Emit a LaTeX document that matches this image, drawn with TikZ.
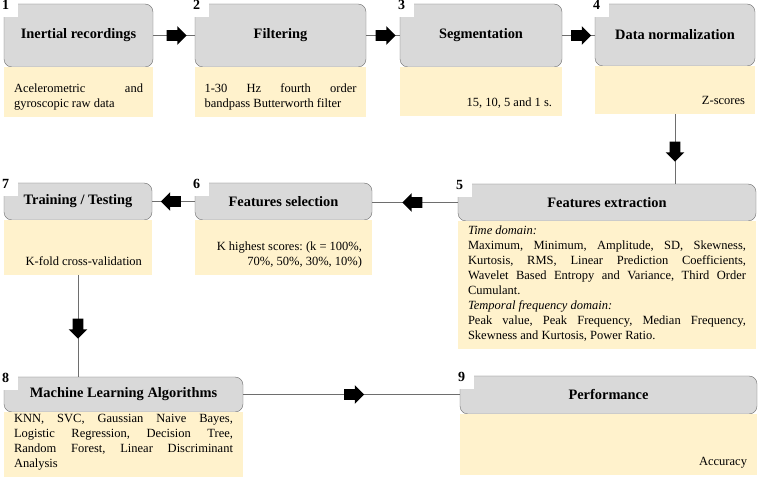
\documentclass[tikz,border=0pt]{standalone}
\usepackage{fontspec}
\setmainfont{Liberation Serif}
\usetikzlibrary{positioning,shapes.arrows}
\definecolor{boxgray}{HTML}{D9D9D9}
\definecolor{boxline}{HTML}{6E6E6E}
\definecolor{notes}{HTML}{FFF2CC}
\newcommand\wordspacing{\frenchspacing\hyphenpenalty=10000\exhyphenpenalty=10000\spaceskip=\fontdimen2\font plus \fontdimen3\font\relax}
\newcommand\fixedspacing{\frenchspacing\spaceskip=\fontdimen2\font\relax}
\tikzset{
  stage/.style={draw=boxline,fill=boxgray,rounded corners=8pt,anchor=north west,outer sep=0pt,inner sep=0pt,font=\fontsize{14.4}{17}\selectfont\bfseries},
  info/.style={fill=notes,outer sep=0pt,inner sep=0pt},
  desc/.style={inner sep=0pt,font=\fontsize{12.5}{15}\selectfont,align=justify,execute at begin node=\wordspacing,execute at end node=\strut},
  rdesc/.style={inner sep=0pt,font=\fontsize{12.5}{15}\selectfont,align=right,execute at begin node=\fixedspacing,execute at end node=\strut},
  num/.style={fill=white,minimum size=24pt,inner sep=0pt,font=\fontsize{14}{16}\selectfont\bfseries},
  link/.style={draw=boxline,line width=.8pt},
  blk/.style={single arrow,fill=black,inner xsep=0pt,inner ysep=5pt,minimum height=20pt,single arrow head extend=4pt},
}
\begin{document}
\begin{tikzpicture}[x=1pt,y=1pt]
	\path[use as bounding box,fill=white] (0,0) rectangle (758,-478);

	% first row
	\node[stage,minimum width=149pt,minimum height=63pt] at (4,-4) (b1) {Inertial recordings};
	\node[info,minimum width=149pt,minimum height=50pt,below=0pt of b1] (d1) {};
	\node[desc,text width=129pt,above=4.5pt of d1.south] (t1) {Acelerometric and gyroscopic raw data};

	\node[stage,minimum width=171pt,minimum height=63pt] at (195,-4) (b2) {Filtering};
	\node[info,minimum width=171pt,minimum height=50pt,below=0pt of b2] (d2) {};
	\node[desc,text width=152pt,above=4.5pt of d2.south] (t2) {1-30 Hz fourth order bandpass Butterworth filter};

	\node[stage,minimum width=162pt,minimum height=63pt] at (400,-4) (b3) {Segmentation};
	\node[info,minimum width=162pt,minimum height=49pt,below=0pt of b3] (d3) {};
	\node[rdesc,text width=142pt,above=4.5pt of d3.south] (t3) {15, 10, 5 and 1 s.};

	\node[stage,minimum width=160pt,minimum height=62pt] at (595,-4) (b4) {Data normalization};
	\node[info,minimum width=160pt,minimum height=48pt,below=0pt of b4] (d4) {};
	\node[rdesc,text width=140pt,above=4.5pt of d4.south] (t4) {Z-scores};

	% second row
	\node[stage,minimum width=298pt,minimum height=37pt] at (458,-184) (b5) {Features extraction};
	\node[info,minimum width=298pt,minimum height=128pt,below=0pt of b5] (d5) {};
	\node[desc,text width=278pt,above=4.5pt of d5.south] (t5) {\textit{Time domain:}\\
	  Maximum, Minimum, Amplitude, SD, Skewness, Kurtosis, RMS, Linear Prediction Coefficients, Wavelet Based Entropy and Variance, Third Order Cumulant.\\
	  \textit{Temporal frequency domain:}\\
	  Peak value, Peak Frequency, Median Frequency, Skewness and Kurtosis, Power Ratio.};

	\node[stage,minimum width=177pt,minimum height=37pt] at (195,-183) (b6) {Features selection};
	\node[info,minimum width=177pt,minimum height=55pt,below=0pt of b6] (d6) {};
	\node[rdesc,text width=157pt,above=4.5pt of d6.south] (t6) {K highest scores: (k = 100\%,\\ 70\%, 50\%, 30\%, 10\%)};

	\node[stage,minimum width=148pt,minimum height=37pt] at (4,-183) (b7) {Training / Testing};
	\node[info,minimum width=148pt,minimum height=55pt,below=0pt of b7] (d7) {};
	\node[rdesc,text width=128pt,above=4.5pt of d7.south] (t7) {K-fold cross-validation};

	% third row
	\node[stage,minimum width=239pt,minimum height=35pt] at (4,-377) (b8) {Machine Learning Algorithms};
	\node[info,minimum width=239pt,minimum height=65pt,below=0pt of b8] (d8) {};
	\node[desc,text width=219pt,above=4.5pt of d8.south] (t8) {KNN, SVC, Gaussian Naive Bayes, Logistic Regression, Decision Tree, Random Forest, Linear Discriminant Analysis};

	\node[stage,minimum width=297pt,minimum height=38pt] at (460,-376) (b9) {Performance};
	\node[info,minimum width=297pt,minimum height=61pt,below=0pt of b9] (d9) {};
	\node[rdesc,text width=277pt,above=4.5pt of d9.south] (t9) {Accuracy};

	% step numbers
	\foreach \i in {1,...,9}
	  \node[num] at ([shift={(1.5,-1)}]b\i.north west) (n\i) {\i};

	% connectors
	\draw[link] (b1) -- node[blk]{} (b2);
	\draw[link] (b2) -- node[blk]{} (b3);
	\draw[link] (b3.east) -- node[blk]{} (b3.east -| b4.west);
	\draw[link] (d4.south) -- node[blk,rotate=270]{} (d4.south |- b5.north);
	\draw[link] (b5.west) -- node[blk,rotate=180]{} (b5.west -| b6.east);
	\draw[link] (b6) -- node[blk,rotate=180]{} (b7);
	\draw[link] (d7.south) -- node[blk,rotate=270]{} (d7.south |- b8.north);
	\draw[link] (b8.east) -- node[blk]{} (b8.east -| b9.west);

\end{tikzpicture}
\end{document}
